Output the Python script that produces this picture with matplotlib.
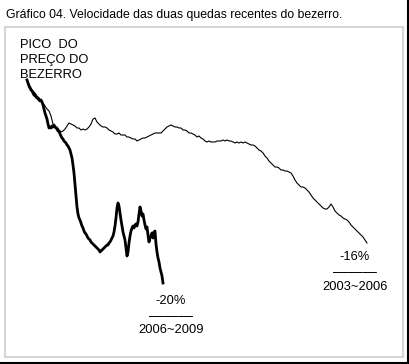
import numpy as np
import matplotlib.pyplot as plt
from matplotlib.lines import Line2D

plt.rcParams['font.family'] = ['Liberation Sans', 'DejaVu Sans']

# variação acumulada desde o pico (em ‰), amostras a cada 6 dias (2003~2006)
var_2003 = [0, -4, -8, -11, -13, -16, -18, -20, -23, -26, -29, -31, -36, -44, -47, -47,
            -50, -52, -51, -49, -46, -43, -44, -45, -46, -48, -48, -50, -49, -50, -49, -47,
            -44, -39, -38, -42, -44, -46, -47, -47, -48, -50, -51, -52, -54, -54, -53, -55,
            -55, -55, -57, -57, -58, -59, -59, -61, -60, -59, -58, -58, -57, -56, -55, -54,
            -53, -53, -53, -53, -51, -49, -47, -46, -45, -46, -47, -47, -48, -48, -50, -50,
            -51, -53, -53, -54, -55, -57, -56, -58, -59, -61, -62, -61, -62, -62, -62, -61,
            -61, -61, -60, -61, -60, -61, -61, -62, -63, -62, -63, -62, -63, -62, -63, -64,
            -65, -65, -66, -68, -70, -71, -73, -76, -78, -81, -83, -85, -87, -87, -88, -90,
            -90, -91, -91, -92, -93, -96, -100, -103, -105, -107, -107, -108, -110, -112,
            -115, -118, -120, -122, -124, -126, -128, -129, -129, -127, -124, -127, -131,
            -133, -135, -136, -138, -139, -140, -142, -145, -147, -149, -151, -153, -155,
            -157, -160, -163]
dias_2003 = np.arange(len(var_2003)) * 6

# variação acumulada desde o pico (em ‰), amostras a cada 3 dias (2006~2009)
var_2006 = [0, -3, -6, -8, -10, -11, -13, -15, -15, -17, -18, -18, -20, -21, -20, -22,
            -25, -29, -33, -36, -39, -44, -48, -47, -48, -46, -47, -45, -47, -48, -49, -51,
            -51, -54, -56, -58, -59, -61, -62, -63, -65, -66, -68, -70, -74, -78, -85, -93,
            -104, -116, -127, -134, -138, -140, -143, -146, -148, -151, -153, -154, -156,
            -158, -159, -160, -162, -163, -164, -165, -166, -167, -168, -169, -170, -172,
            -171, -170, -169, -168, -167, -166, -165, -165, -163, -162, -160, -158, -156,
            -152, -146, -138, -128, -123, -126, -133, -140, -146, -152, -156, -160, -168,
            -176, -172, -163, -156, -151, -148, -146, -148, -145, -144, -146, -142, -134,
            -127, -131, -136, -134, -140, -145, -149, -147, -155, -162, -158, -156, -153,
            -158, -152, -151, -164, -172, -178, -182, -188, -192, -196, -203]
dias_2006 = np.arange(len(var_2006)) * 3

W, H = 409, 364
fig = plt.figure(figsize=(W / 100, H / 100), dpi=100)
fig.patch.set_facecolor('white')

# caixa cinza do gráfico
ax = fig.add_axes([5 / W, (H - 357) / H, (403 - 5) / W, (357 - 27) / H])
ax.plot(dias_2003, var_2003, color='black', lw=0.8)
ax.plot(dias_2006, var_2006, color='black', lw=2.0, solid_joinstyle='round')
ax.set_xlim(-66, 1128)
ax.set_ylim(-277, 53)
ax.set_xticks([])
ax.set_yticks([])
for s in ax.spines.values():
    s.set_color('#d6d6d6')
    s.set_linewidth(1.5)

fig.text(6 / W, 1 - 15 / H, 'Gráfico 04. Velocidade das duas quedas recentes do bezerro.',
         fontsize=8.8, va='center', ha='left')

fs = 9.3
fig.text(20 / W, 1 - 45 / H, 'PICO  DO', fontsize=fs, va='center')
fig.text(20 / W, 1 - 60 / H, 'PREÇO DO', fontsize=fs, va='center')
fig.text(20 / W, 1 - 75 / H, 'BEZERRO', fontsize=fs, va='center')

fig.text(355 / W, 1 - 257 / H, '-16%', fontsize=fs, ha='center', va='center')
fig.text(355 / W, 1 - 272 / H, '———', fontsize=10.5, ha='center', va='center')
fig.text(355 / W, 1 - 287 / H, '2003~2006', fontsize=fs, ha='center', va='center')

fig.text(171 / W, 1 - 301 / H, '-20%', fontsize=fs, ha='center', va='center')
fig.text(171 / W, 1 - 316 / H, '———', fontsize=10.5, ha='center', va='center')
fig.text(171 / W, 1 - 330 / H, '2006~2009', fontsize=fs, ha='center', va='center')

# borda preta à direita e embaixo
fig.add_artist(Line2D([407.5 / W, 407.5 / W], [0, 1], color='black', lw=1.5))
fig.add_artist(Line2D([0, 1], [1.5 / H, 1.5 / H], color='black', lw=1.5))

fig.savefig('out.png', dpi=100, facecolor='white')
